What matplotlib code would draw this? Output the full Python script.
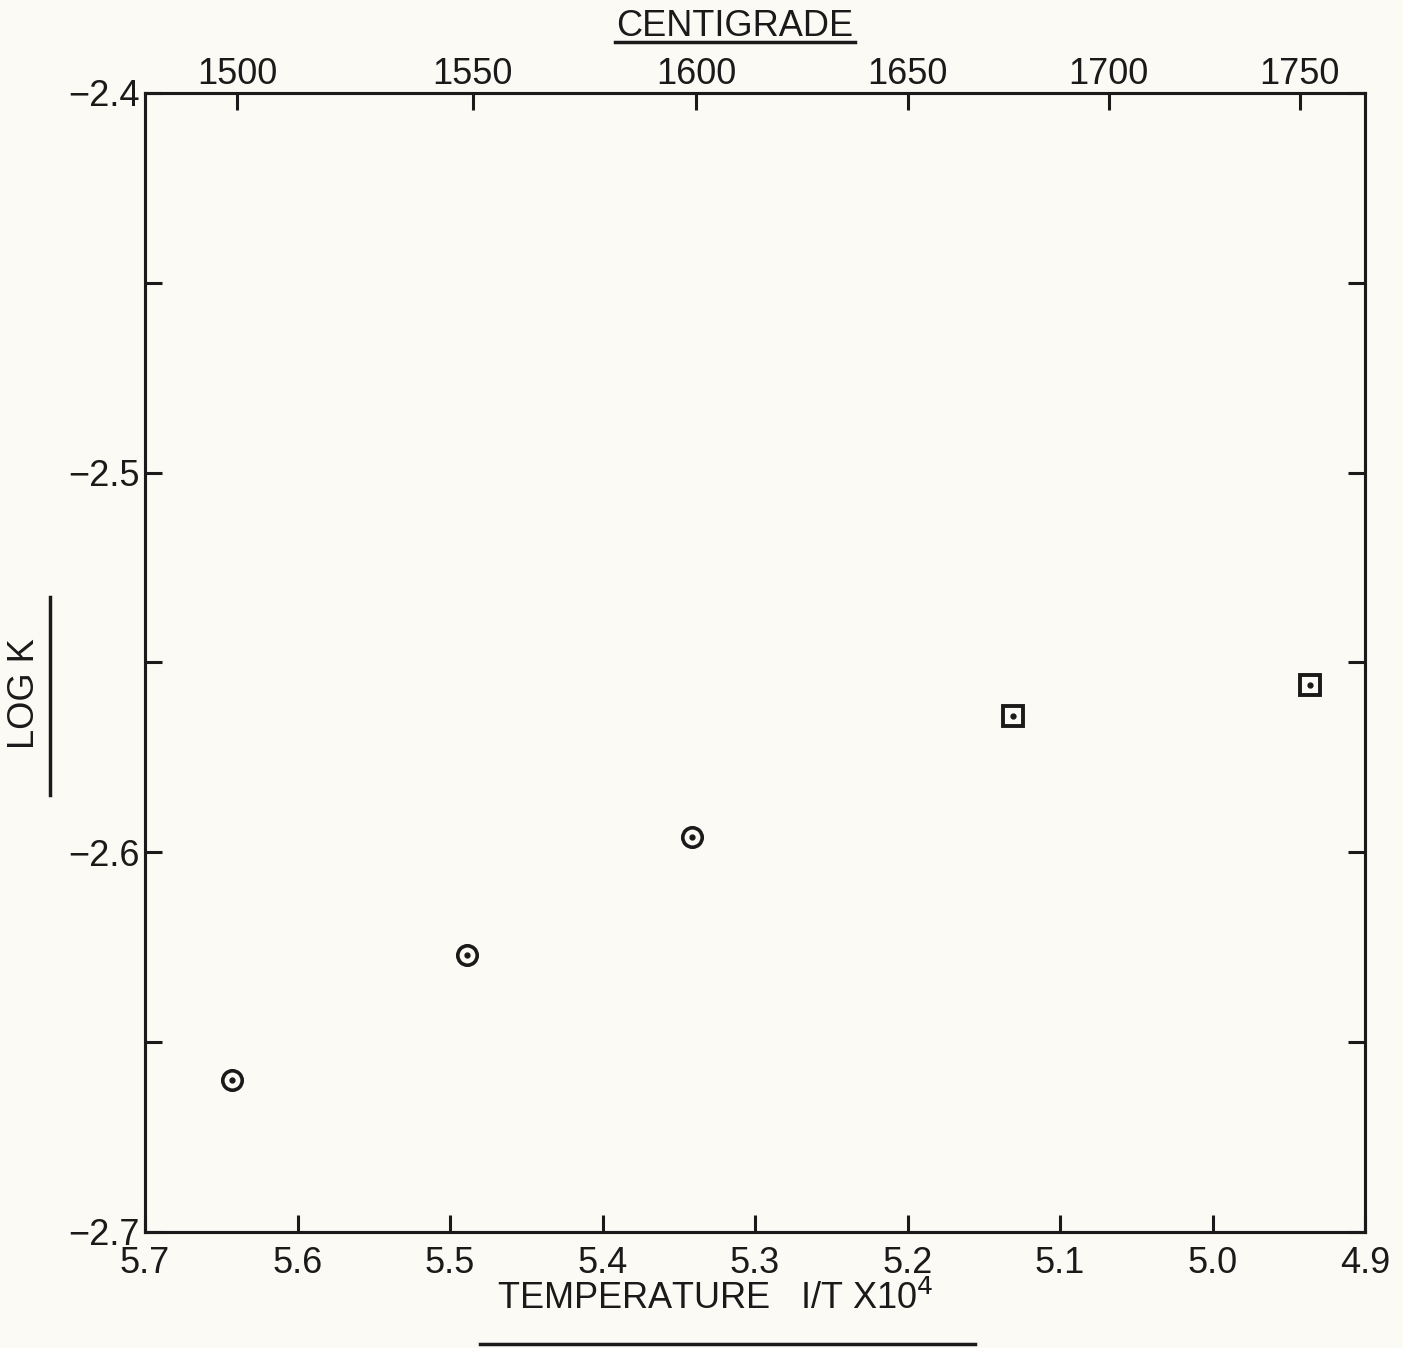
import matplotlib
matplotlib.use("Agg")
import matplotlib.pyplot as plt
from matplotlib.lines import Line2D

# Data
inv_T_circles = [5.643, 5.489, 5.341]
logk_circles = [-2.660, -2.627, -2.596]
inv_T_squares = [5.131, 4.936]
logk_squares = [-2.564, -2.556]

x_ticks = [5.7, 5.6, 5.5, 5.4, 5.3, 5.2, 5.1, 5.0, 4.9]
x_ticklabels = ["5.7", "5.6", "5.5", "5.4", "5.3", "5.2", "5.1", "5.0", "4.9"]
y_ticks_major = [-2.7, -2.6, -2.5, -2.4]
y_ticklabels = ["\u22122.7", "\u22122.6", "\u22122.5", "\u22122.4"]
y_ticks_minor = [-2.65, -2.55, -2.45]
c_ticks = [1500, 1550, 1600, 1650, 1700, 1750]


def c_to_invT(c):
    return 1e4 / (c + 273.15)


bg = "#fbfaf5"
ink = "#1a1a1a"
plt.rcParams['font.family'] = ['Liberation Sans', 'DejaVu Sans']

fig = plt.figure(figsize=(14.03, 13.48), dpi=100, facecolor=bg)
ax = fig.add_axes([145/1403, 1-1232/1348, (1365-145)/1403, (1232-93)/1348])
ax.set_facecolor(bg)

ax.plot(inv_T_circles, logk_circles, linestyle="none", marker="o", ms=14,
        mfc="none", mec=ink, mew=2.6)
ax.plot(inv_T_circles, logk_circles, linestyle="none", marker="o", ms=3.5,
        mfc=ink, mec=ink)
ax.plot(inv_T_squares, logk_squares, linestyle="none", marker="s", ms=14,
        mfc="none", mec=ink, mew=2.8)
ax.plot(inv_T_squares, logk_squares, linestyle="none", marker="o", ms=3.5,
        mfc=ink, mec=ink)

ax.set_xlim(5.7, 4.9)
ax.set_ylim(-2.7, -2.4)
ax.set_xticks(x_ticks)
ax.set_xticklabels(x_ticklabels)
ax.set_yticks(y_ticks_major)
ax.set_yticklabels(y_ticklabels)
ax.set_yticks(y_ticks_minor, minor=True)

for s in ax.spines.values():
    s.set_linewidth(2.2)
    s.set_color(ink)

ax.tick_params(axis="x", which="both", direction="in", length=12, width=2.2,
               labelsize=26, pad=10, colors=ink, top=False)
ax.tick_params(axis="y", which="both", direction="in", length=12, width=2.2,
               labelsize=26, pad=4, colors=ink, right=True)

# Top centigrade axis
top = ax.twiny()
top.set_xlim(ax.get_xlim())
top.set_xticks([c_to_invT(c) for c in c_ticks])
top.set_xticklabels([str(c) for c in c_ticks])
top.tick_params(axis="x", direction="in", length=12, width=2.2, labelsize=26,
                pad=1, colors=ink)
for s in top.spines.values():
    s.set_linewidth(2.2)
    s.set_color(ink)

# Axis titles with underlines
fig.text(735/1403, 1-26/1348, "CENTIGRADE", ha="center", va="center", fontsize=26, color=ink)
fig.add_artist(Line2D([615/1403, 855/1403], [1-42/1348, 1-42/1348], color=ink, lw=2.5))

fig.text(715/1403, 1-1299/1348, "TEMPERATURE   I/T X10$^4$", ha="center", va="center",
         fontsize=26, color=ink)
fig.add_artist(Line2D([480/1403, 975/1403], [1-1344/1348, 1-1344/1348], color=ink, lw=2.5))

fig.text(25/1403, 1-694/1348, "LOG K", ha="center", va="center", rotation=90,
         fontsize=26, color=ink)
fig.add_artist(Line2D([50/1403, 50/1403], [1-597/1348, 1-795/1348], color=ink, lw=2.5))

fig.savefig("out.png", dpi=100, facecolor=bg)
